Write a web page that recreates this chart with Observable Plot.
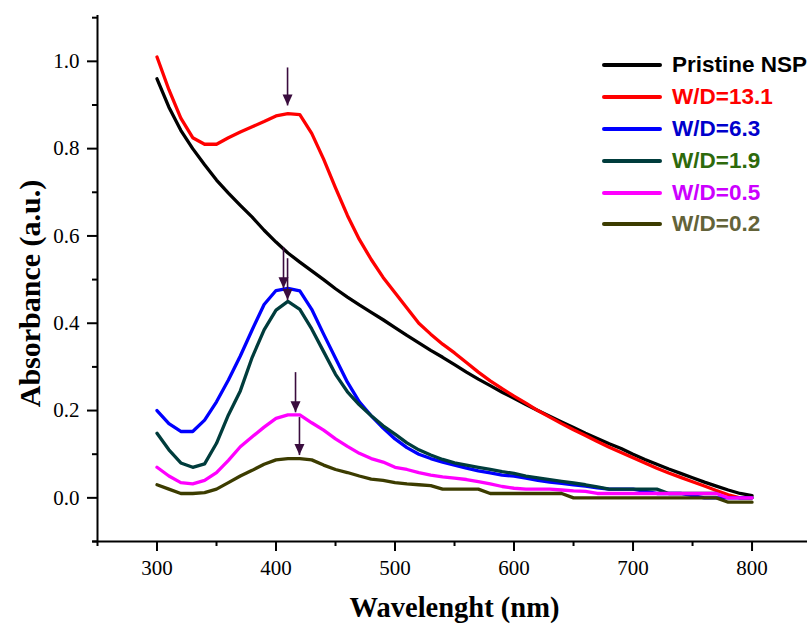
<!DOCTYPE html>
<html><head><meta charset="utf-8">
<script src="https://cdn.jsdelivr.net/npm/d3@7"></script>
<script src="https://cdn.jsdelivr.net/npm/@observablehq/plot@0.6"></script>
<style>
html,body{margin:0;padding:0;background:#fff;overflow:hidden}
#wrap{position:relative;width:807px;height:625px;overflow:hidden;background:#fff}
.legend{position:absolute;left:602px;top:0;font-family:"Liberation Sans",Arial,sans-serif;font-weight:bold;font-size:22.5px}
.row{position:absolute;left:0;display:flex;align-items:center;height:26px;white-space:nowrap}
.swatch{width:60px;height:4px;border-radius:2px;margin-right:10px}
</style></head><body><div id="wrap"></div>
<script>
// ---- data ----
const wavelengths = [300,310,320,330,340,350,360,370,380,390,400,410,420,430,440,450,460,470,480,490,500,
  510,520,530,540,550,560,570,580,590,600,610,620,630,640,650,660,670,680,690,700,
  710,720,730,740,750,760,770,780,790,800];

const seriesNames = ["Pristine NSP","W/D=13.1","W/D=6.3","W/D=1.9","W/D=0.5","W/D=0.2"];

const pristine = [0.96,0.895,0.842,0.80,0.763,0.728,0.698,0.67,0.643,0.613,0.586,0.561,0.54,0.52,0.50,0.479,0.46,0.442,0.425,0.408,0.39,
  0.372,0.355,0.338,0.322,0.305,0.288,0.272,0.257,0.242,0.228,0.214,0.20,0.187,0.174,0.161,0.148,0.136,0.124,0.113,0.10,
  0.088,0.077,0.066,0.056,0.046,0.036,0.027,0.018,0.01,0.005];
const wd131 = [1.01,0.935,0.87,0.825,0.81,0.81,0.825,0.838,0.85,0.862,0.875,0.88,0.878,0.835,0.776,0.71,0.647,0.592,0.546,0.505,0.47,
  0.435,0.40,0.375,0.352,0.332,0.31,0.288,0.268,0.25,0.233,0.217,0.20,0.185,0.17,0.156,0.143,0.129,0.116,0.104,0.092,
  0.08,0.068,0.057,0.047,0.037,0.027,0.017,0.007,0.0,0.0];
const wd63 = [0.20,0.17,0.152,0.152,0.178,0.22,0.27,0.325,0.385,0.443,0.475,0.48,0.474,0.432,0.375,0.32,0.265,0.22,0.188,0.16,0.135,
  0.115,0.10,0.09,0.082,0.075,0.068,0.062,0.057,0.052,0.05,0.045,0.04,0.036,0.033,0.03,0.027,0.023,0.02,0.02,0.02,
  0.015,0.01,0.01,0.01,0.005,0.0,0.0,0.0,0.0,0.0];
const wd19 = [0.148,0.11,0.08,0.07,0.078,0.125,0.19,0.245,0.322,0.385,0.43,0.45,0.432,0.387,0.335,0.283,0.243,0.213,0.188,0.165,0.146,
  0.126,0.11,0.098,0.088,0.08,0.075,0.07,0.065,0.06,0.056,0.05,0.046,0.042,0.038,0.034,0.03,0.025,0.02,0.02,0.02,
  0.02,0.02,0.01,0.01,0.01,0.01,0.01,null,null,null];
const wd05 = [0.07,0.05,0.035,0.032,0.04,0.058,0.086,0.117,0.14,0.162,0.182,0.19,0.19,0.172,0.155,0.135,0.118,0.102,0.09,0.082,0.07,
  0.065,0.058,0.052,0.048,0.045,0.042,0.037,0.032,0.026,0.022,0.02,0.02,0.02,0.018,0.016,0.015,0.01,0.01,0.01,0.01,
  0.01,0.01,0.01,0.01,0.01,0.01,0.01,0.0,0.0,0.0];
const wd02 = [0.03,0.02,0.01,0.01,0.012,0.02,0.035,0.05,0.063,0.077,0.087,0.09,0.09,0.087,0.075,0.065,0.058,0.05,0.043,0.04,0.035,
  0.032,0.03,0.028,0.02,0.02,0.02,0.02,0.01,0.01,0.01,0.01,0.01,0.01,0.01,0.0,0.0,0.0,0.0,0.0,0.0,
  0.0,0.0,0.0,0.0,0.0,0.0,0.0,-0.01,-0.01,-0.01];

// peak-marker arrows (wavelength, start absorbance, tip absorbance)
const arrowWl = [409.7,406.3,409.7,416.4,419.7];
const arrowTop = [0.986,0.574,0.549,0.288,0.185];
const arrowTip = [0.899,0.48,0.453,0.196,0.098];

const xMajor = [300,400,500,600,700,800];
const xMinor = [250,350,450,550,650,750,850];
const yMajor = [0.0,0.2,0.4,0.6,0.8,1.0];
const yMinor = [-0.1,0.1,0.3,0.5,0.7,0.9,1.1];

// ---- styles ----
const lineColors = ["#000000","#ff0000","#0000ff","#003c3c","#ff00ff","#3c3c00"];
const textColors = ["#000000","#ff0000","#0000cc","#2e6a0c","#cc00ff","#636339"];
const arrowColor = "#3a0c3e";

// ---- build table ----
const allSeries = [pristine, wd131, wd63, wd19, wd05, wd02];
const rows = [];
allSeries.forEach((vals, i) => {
  vals.forEach((v, j) => { if (v != null) rows.push({series: seriesNames[i], wl: wavelengths[j], a: v}); });
});
const arrows = arrowWl.map((w, i) => ({wl: w, top: arrowTop[i], tip: arrowTip[i]}));

const head = {draw(ctx) { ctx.moveTo(0, 0); ctx.lineTo(-5, -11); ctx.lineTo(5, -11); ctx.closePath(); }};

const serif = "'Liberation Serif','Times New Roman',serif";

const chart = Plot.plot({
  width: 807, height: 625,
  marginLeft: 97, marginRight: 0, marginTop: 15, marginBottom: 84,
  x: {domain: [250, 846.6]},
  y: {domain: [-0.1, 1.105]},
  color: {domain: seriesNames, range: lineColors},
  style: {fontFamily: serif, background: "white", color: "black"},
  marks: [
    Plot.axisX({ticks: xMajor, tickSize: 10, tickPadding: 9, fontSize: 21, strokeWidth: 2, tickFormat: d => String(d), label: null}),
    Plot.axisX({ticks: xMinor, tickSize: 5, text: null, strokeWidth: 2, label: null}),
    Plot.axisY({ticks: yMajor, tickSize: 10, tickPadding: 8, fontSize: 21, strokeWidth: 2, tickFormat: d3.format(".1f"), label: null}),
    Plot.axisY({ticks: yMinor, tickSize: 5, text: null, strokeWidth: 2, label: null}),
    Plot.ruleY([-0.1], {x1: 246, x2: 846.6, strokeWidth: 2}),
    Plot.ruleX([250], {y1: -0.1, y2: 1.105, strokeWidth: 2}),
    Plot.line(rows, {x: "wl", y: "a", z: "series", stroke: "series", strokeWidth: 3.3}),
    Plot.link(arrows, {x1: "wl", x2: "wl", y1: "top", y2: "tip", stroke: arrowColor, strokeWidth: 1.6}),
    Plot.dot(arrows, {x: "wl", y: "tip", symbol: head, fill: arrowColor, stroke: null, r: 5}),
    Plot.text(["Wavelenght (nm)"], {text: d => d, frameAnchor: "bottom", lineAnchor: "middle", textAnchor: "middle", dx: 2, dy: 66, fontSize: 28.5, fontWeight: "bold", fontFamily: serif, fill: "black"}),
    Plot.text(["Absorbance (a.u.)"], {text: d => d, frameAnchor: "left", lineAnchor: "middle", textAnchor: "middle", dx: -67, dy: 15, rotate: -90, fontSize: 30, fontWeight: "bold", fontFamily: serif, fill: "black"})
  ]
});

const wrap = document.getElementById("wrap");
wrap.appendChild(chart);

// legend overlay
const legendY = [65, 97, 129, 161, 193, 224];
const legend = document.createElement("div");
legend.className = "legend";
seriesNames.forEach((name, i) => {
  const row = document.createElement("div");
  row.className = "row";
  row.style.top = (legendY[i] - 13) + "px";
  const sw = document.createElement("div");
  sw.className = "swatch";
  sw.style.background = lineColors[i];
  const tx = document.createElement("span");
  tx.textContent = name;
  tx.style.color = textColors[i];
  row.appendChild(sw); row.appendChild(tx);
  legend.appendChild(row);
});
wrap.appendChild(legend);
</script></body></html>
